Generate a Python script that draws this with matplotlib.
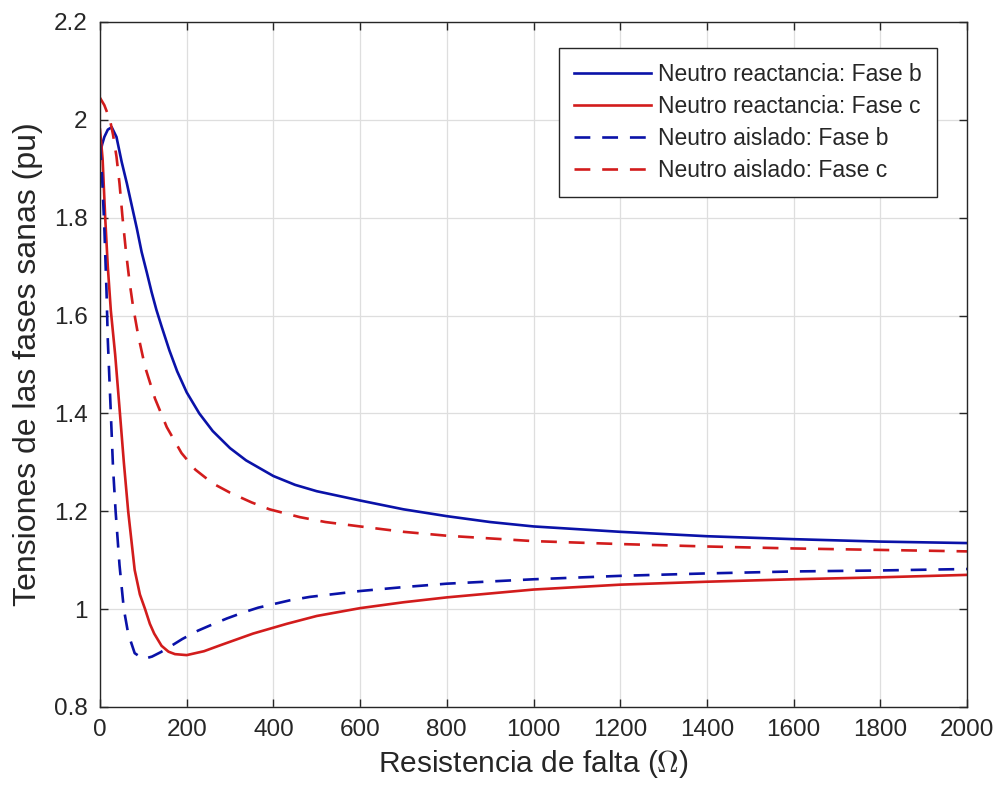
import numpy as np
import matplotlib
matplotlib.use('Agg')
import matplotlib.pyplot as plt

# Neutro reactancia: Fase b
xr_b = [0, 5, 10, 18, 27, 38, 50, 62, 73, 85, 96, 108, 119, 130, 142, 160, 178, 200, 229,
        260, 300, 337, 400, 450, 500, 600, 700, 800, 900, 1000, 1200, 1400, 1600, 1800, 2000]
yr_b = [1.93, 1.95, 1.965, 1.98, 1.985, 1.965, 1.914, 1.87, 1.826, 1.778, 1.73, 1.688, 1.648,
        1.612, 1.578, 1.529, 1.486, 1.443, 1.40, 1.364, 1.329, 1.304, 1.272, 1.254, 1.241,
        1.222, 1.204, 1.19, 1.178, 1.169, 1.158, 1.149, 1.143, 1.138, 1.135]

# Neutro reactancia: Fase c
xr_c = [0, 6, 12, 18, 25, 35, 46, 55, 65, 80, 92, 104, 115, 125, 142, 158, 173, 200, 240,
        277, 353, 431, 500, 600, 700, 800, 1000, 1200, 1400, 1600, 1800, 2000]
yr_c = [1.98, 1.92, 1.80, 1.70, 1.61, 1.52, 1.40, 1.30, 1.20, 1.08, 1.03, 1.00, 0.97, 0.95,
        0.925, 0.913, 0.908, 0.906, 0.914, 0.926, 0.95, 0.97, 0.986, 1.002, 1.014, 1.024,
        1.04, 1.05, 1.056, 1.061, 1.065, 1.07]

# Neutro aislado: Fase b
xa_b = [0, 5, 10, 15, 18, 25, 30, 36, 45, 55, 65, 80, 100, 120, 140, 161, 190, 226, 260,
        293, 330, 365, 438, 484, 600, 700, 800, 1000, 1200, 1400, 1600, 1800, 2000]
ya_b = [1.95, 1.88, 1.78, 1.65, 1.55, 1.40, 1.29, 1.20, 1.09, 1.00, 0.95, 0.91, 0.898, 0.903,
        0.912, 0.923, 0.939, 0.956, 0.969, 0.981, 0.993, 1.003, 1.018, 1.025, 1.037, 1.045,
        1.052, 1.061, 1.068, 1.073, 1.077, 1.079, 1.082]

# Neutro aislado: Fase c
xa_c = [0, 10, 23, 30, 38, 45, 52, 60, 68, 76, 88, 104, 127, 154, 188, 220, 260, 300, 350,
        391, 461, 520, 600, 700, 800, 1000, 1200, 1400, 1600, 1800, 2000]
ya_c = [2.045, 2.03, 2.0, 1.97, 1.925, 1.87, 1.80, 1.73, 1.67, 1.62, 1.56, 1.495, 1.43,
        1.372, 1.319, 1.285, 1.257, 1.238, 1.218, 1.204, 1.188, 1.178, 1.169, 1.158, 1.15,
        1.139, 1.133, 1.128, 1.124, 1.121, 1.118]

labels = ['Neutro reactancia: Fase b', 'Neutro reactancia: Fase c',
          'Neutro aislado: Fase b', 'Neutro aislado: Fase c']
xticks = np.arange(0, 2001, 200)
yticks = [0.8, 1.0, 1.2, 1.4, 1.6, 1.8, 2.0, 2.2]
ytick_labels = ['0.8', '1', '1.2', '1.4', '1.6', '1.8', '2', '2.2']

blue = '#0a12a8'
red = '#d21c1c'
txt = '#262626'

plt.rcParams['font.family'] = ['Liberation Sans', 'DejaVu Sans']
plt.rcParams['mathtext.fontset'] = 'cm'

fig = plt.figure(figsize=(10, 7.94), dpi=100)
ax = fig.add_axes([0.1, 0.1096, 0.867, 0.8627])

lw = 1.9
dash = (6, 4.5)
ax.plot(xr_b, yr_b, color=blue, lw=lw, label=labels[0])
ax.plot(xr_c, yr_c, color=red, lw=lw, label=labels[1])
ax.plot(xa_b, ya_b, color=blue, lw=lw, linestyle=(0, dash), label=labels[2])
ax.plot(xa_c, ya_c, color=red, lw=lw, linestyle=(0, dash), label=labels[3])

ax.set_xlim(0, 2000)
ax.set_ylim(0.8, 2.2)
ax.set_xticks(xticks)
ax.set_yticks(yticks)
ax.set_yticklabels(ytick_labels)
ax.grid(True, color='#dedede', lw=0.9)
ax.set_axisbelow(True)
ax.tick_params(direction='in', length=6, width=1, top=True, right=True,
               labelsize=17.5, colors=txt, pad=9)
for s in ax.spines.values():
    s.set_color(txt)
    s.set_linewidth(1)

ax.set_xlabel('Resistencia de falta ($\\Omega$)', fontsize=21.5, color=txt, labelpad=5)
ax.set_ylabel('Tensiones de las fases sanas (pu)', fontsize=23, color=txt, labelpad=8)

leg = ax.legend(loc='upper right', bbox_to_anchor=(0.9654, 0.962), borderaxespad=0,
                fontsize=16.5, handlelength=3.4, handletextpad=0.3, labelspacing=0.4,
                borderpad=0.65, fancybox=False, framealpha=1)
leg.get_frame().set_edgecolor(txt)
leg.get_frame().set_linewidth(1)
for t in leg.get_texts():
    t.set_color(txt)

fig.savefig('out.png', dpi=100)
